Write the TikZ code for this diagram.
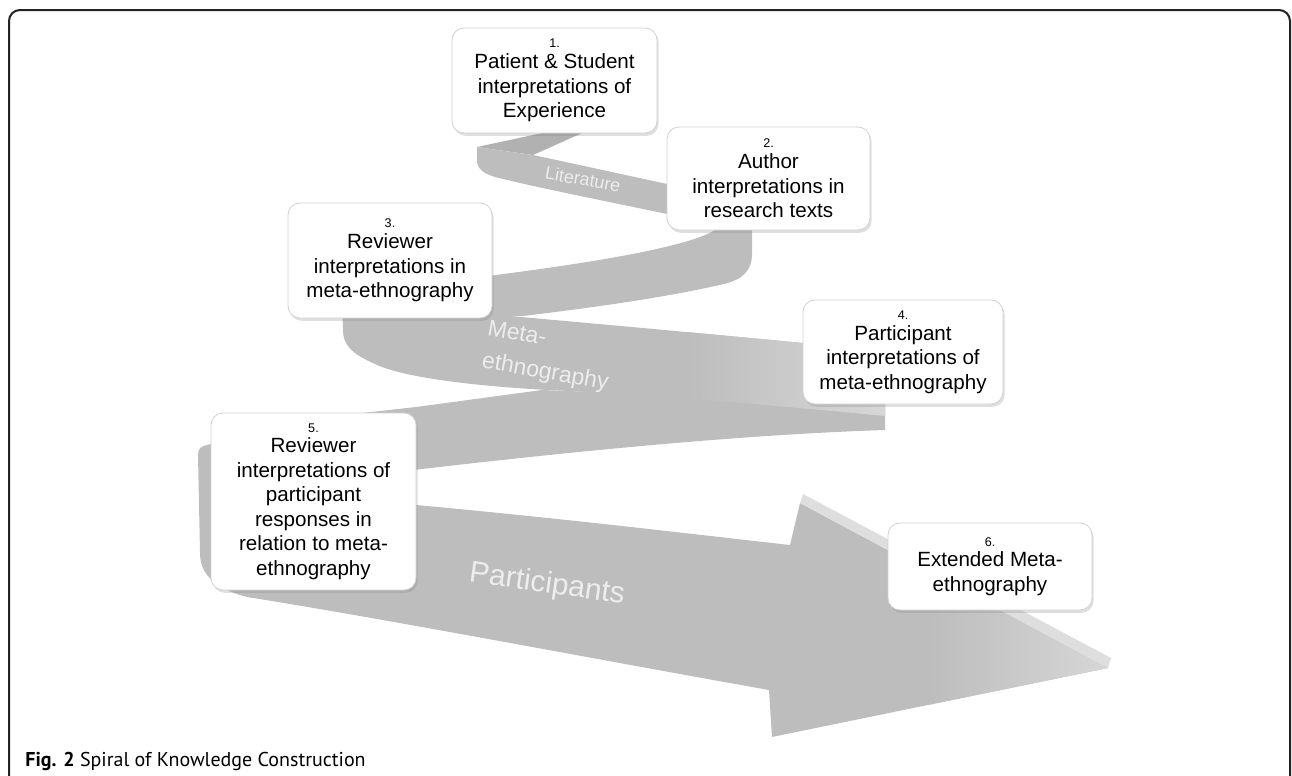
\documentclass[tikz,border=0pt]{standalone}
\usepackage{fontspec}
\setmainfont{Liberation Sans}
\newfontfamily\legende{PT Sans}
\usetikzlibrary{shadows}

\definecolor{ruban}{HTML}{BDBDBD}
\definecolor{rubanfonce}{HTML}{B1B1B1}
\definecolor{rubanclair}{HTML}{D8D8D8}
\definecolor{cadre}{HTML}{222222}

\newcommand{\numero}[1]{{\fontsize{6.3}{7}\selectfont #1.}\\[-1.8pt]}

\begin{document}
\begin{tikzpicture}[x=0.5pt,y=-0.5pt,
    boite/.style={draw=black!18, fill=white, rounded corners=6pt, align=center,
      font=\fontsize{10.3}{12.25}\selectfont, inner sep=0pt,
      drop shadow={shadow xshift=0.8pt, shadow yshift=-1.4pt, opacity=0.25}},
    etiquette/.style={text=white!93!black, align=left}]
  \useasboundingbox (0,0) rectangle (1292,776);
  \clip (0,0) rectangle (1292,776);

  % Cadre
  \draw[cadre, line width=1pt, rounded corners=5.5pt] (9,800) -- (9,10) -- (1290,10) -- (1290,800);

  % Ruban : retour vers 5 et fleche
  \def\fleche{(885,403) -- (885,430)
    .. controls (760,434) and (600,448) .. (405,471)
    -- (405,504)
    .. controls (560,518) and (700,535) .. (790,545)
    -- (800,503) -- (1108,668) -- (772,737) -- (769,690)
    .. controls (600,660) and (380,618) .. (247,597)
    .. controls (212,588) and (200,572) .. (200,553)
    -- (198,455) .. controls (198,449) and (201,446) .. (207,445)
    -- (300,420) -- (416,407) -- (542,390) -- cycle}
  \fill[ruban] \fleche;
  \begin{scope}
    \clip \fleche;
    \shade[left color=ruban, right color=rubanclair] (930,480) rectangle (1120,760);
  \end{scope}
  \fill[rubanclair!85!white] (800,503) -- (803,494) -- (1111,658) -- (1108,668) -- cycle;

  % Ruban : retour vers 3
  \fill[ruban] (480,277) .. controls (600,262) and (690,246) .. (715,230) -- (715,215) -- (752,215) -- (752,255)
    .. controls (752,270) and (742,279) .. (728,283)
    .. controls (670,297) and (590,308) .. (523,316) -- (480,318) -- cycle;

  % Ruban : meta-ethnographie
  \def\meta{(342,300) -- (487,314) .. controls (600,324) and (720,335) .. (803,343) -- (885,355) -- (885,416)
    .. controls (760,404) and (640,394) .. (547,390)
    .. controls (460,385) and (400,376) .. (375,364)
    .. controls (352,354) and (343,345) .. (343,330) -- cycle}
  \fill[ruban] \meta;
  \begin{scope}
    \clip \meta;
    \shade[left color=ruban, right color=rubanclair] (690,330) rectangle (890,440);
  \end{scope}

  % Ruban : litterature
  \fill[rubanfonce] (477,147) -- (575,126) -- (598,126) -- (533,155) -- cycle;
  \fill[ruban] (477,147) -- (533,155) .. controls (580,165) and (630,176) .. (667,184) -- (690,186) -- (690,216) -- (667,214)
    .. controls (600,200) and (530,186) .. (495,177) .. controls (482,173) and (477,168) .. (477,160) -- cycle;

  % Etiquettes du ruban
  \node[etiquette, font=\fontsize{9}{10}\selectfont, rotate=-10] (lit) at (583,179) {Literature};
  \node[etiquette, font=\fontsize{11.5}{16.5}\selectfont, rotate=-10] (meta) at (548,357) {Meta-\\ethnography};
  \node[etiquette, font=\fontsize{15}{18}\selectfont, rotate=-8] (part) at (547,585) {Participants};

  % Boites
  \node[boite, minimum width=102.5pt, minimum height=52.5pt] (b1) at (554.5,80.5)
    {\numero{1}Patient \& Student\\interpretations of\\Experience};
  \node[boite, minimum width=101.5pt, minimum height=51.5pt] (b2) at (768.5,178.5)
    {\numero{2}Author\\interpretations in\\research texts};
  \node[boite, minimum width=102pt, minimum height=57.5pt] (b3) at (390,260.5)
    {\numero{3}Reviewer\\interpretations in\\meta-ethnography};
  \node[boite, minimum width=100pt, minimum height=52pt] (b4) at (903,352)
    {\numero{4}Participant\\interpretations of\\meta-ethnography};
  \node[boite, minimum width=102.5pt, minimum height=88.5pt] (b5) at (313.5,501.5)
    {\numero{5}Reviewer\\interpretations of\\participant\\responses in\\relation to meta-\\ethnography};
  \node[boite, minimum width=102pt, minimum height=43.5pt] (b6) at (990,566.5)
    {\numero{6}Extended Meta-\\ethnography};

  % Legende
  \node[anchor=base west, inner sep=0pt, font=\legende\fontsize{10}{12}\selectfont] (leg) at (25,766)
    {\textbf{Fig. 2} Spiral of Knowledge Construction};
\end{tikzpicture}
\end{document}
